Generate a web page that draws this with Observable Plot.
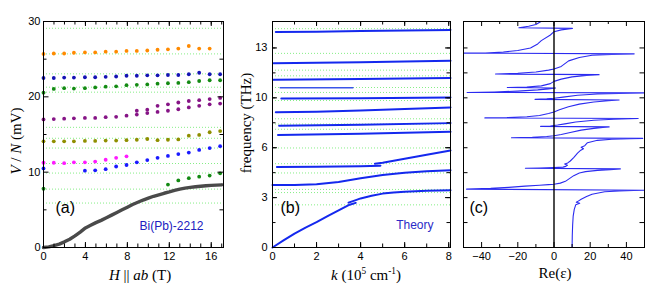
<!DOCTYPE html>
<html><head><meta charset="utf-8">
<script src="https://cdn.jsdelivr.net/npm/d3@7"></script>
<script src="https://cdn.jsdelivr.net/npm/@observablehq/plot@0.6"></script>
<style>
body{margin:0;background:#fff;}
#fig{position:relative;width:664px;height:302px;overflow:hidden;background:#fff;}
#fig svg{position:absolute;top:0;}
</style></head><body><div id="fig"></div>
<script>
// ---------- Panel (a) data ----------
const fieldH = [0,0.98,1.97,2.9,3.95,4.93,5.93,6.93,7.92,8.9,9.9,10.88,11.87,12.86,13.86,14.85,15.85,16.85];
const orangeV = [25.7,25.75,25.75,25.85,25.9,25.9,26.0,26.0,26.1,26.1,26.15,26.25,26.3,26.4,26.75,26.4,26.4];
const blueUpperV = [22.5,22.5,22.55,22.55,22.6,22.6,22.65,22.7,22.8,22.8,22.85,22.85,22.9,22.9,23.0,23.2,23.0,23.0];
const greenUpperV = [20.55,21.05,21.15,21.1,21.15,21.25,21.35,21.4,21.55,21.6,21.65,21.75,21.8,21.85,21.95,22.1,22.2,22.2];
const purpleUpperV = [17.0,17.05,17.1,17.15,17.2,17.2,17.3,17.35,17.5,18.15,18.3,18.8,19.0,19.25,19.45,19.55,19.7,19.85];
const purpleLowerIdx = [9,10,11,12,13,14,15,16,17];
const purpleLowerV = [17.65,17.85,18.0,18.15,18.35,18.6,18.8,19.0,19.1];
const oliveV = [14.1,14.1,14.1,14.1,14.15,14.15,14.2,14.2,14.25,14.3,14.4,14.25,14.3,14.35,14.85,14.95,15.3,15.45];
const magentaV = [11.25,11.25,11.2,11.3,11.3,11.4,11.65,11.9,12.1];
const blueLowerIdx = [0,4,5,6,7,8,9,10,11,12,13,14,15,16,17];
const blueLowerV = [10.5,10.2,10.25,10.4,10.75,10.95,11.3,11.6,11.9,12.15,12.4,12.6,12.95,13.2,13.45];
const greenLowerIdx = [0,12,13,14,15,16,17];
const greenLowerV = [7.8,8.35,8.9,9.2,9.4,9.55,9.85];
const grayH = [0,0.5,1,1.5,2,2.5,3,3.5,4,4.5,5,5.5,6,6.5,7,7.5,8,8.5,9,9.5,10,10.5,11,11.5,12,12.5,13,13.5,14,14.5,15,15.5,16,16.5,17];
const grayV = [0,0.08,0.25,0.45,0.75,1.1,1.55,2.05,2.6,2.95,3.3,3.6,3.95,4.3,4.65,5.0,5.35,5.7,6.0,6.3,6.55,6.8,7.0,7.2,7.38,7.58,7.75,7.88,7.98,8.07,8.13,8.19,8.24,8.28,8.32];
const guideMV = [29.1,25.7,23.05,21.28,20.62,15.95,14.5,13.2,11.15,9.88,7.75,5.9];
const aXTickLabels = [0,4,8,12,16];
const aYTickLabels = [0,10,20,30];

// ---------- Panel (b) data ----------
const guideTHz = [14.62,12.97,11.85,11.47,10.69,10.36,9.82,8.6,8.25,7.9,6.65,5.6,4.98,3.88,3.67,2.85];
const branch1 = [[0.15,14.40],[2,14.42],[4,14.46],[6,14.5],[8.08,14.54]];
const branch2 = [[0.05,12.31],[2,12.34],[4,12.38],[6,12.43],[8.08,12.48]];
const branch3 = [[0.05,11.2],[4,11.25],[8.08,11.33]];
const branch4short = [[0.35,10.67],[3.65,10.67]];
const branch5 = [[0.4,9.96],[4,9.98],[8.08,10.03]];
const branch6 = [[0.15,9.03],[2,9.07],[4,9.15],[6,9.25],[8.08,9.36]];
const branch7 = [[0.3,8.13],[4,8.2],[8.08,8.31]];
const branch8 = [[0.25,7.51],[4,7.6],[8.08,7.73]];
const branch9a = [[0.2,5.38],[2,5.39],[4,5.43],[4.9,5.47]];
const branch9b = [[4.65,5.6],[5,5.66],[6,5.93],[7,6.2],[8.08,6.48]];
const branch10 = [[0,4.18],[1,4.18],[2,4.22],[3,4.38],[4,4.62],[5,4.85],[6,5.0],[7,5.1],[8.08,5.16]];
const branch11a = [[0,0],[0.5,0.47],[1,0.93],[1.5,1.33],[2,1.69],[2.5,2.09],[3,2.48],[3.5,2.86],[3.78,2.98]];
const branch11b = [[3.45,3.0],[3.75,3.15],[4,3.28],[4.5,3.46],[5,3.6],[5.5,3.68],[6,3.73],[7,3.79],[8.08,3.83]];
const bXTickLabels = [0,2,4,6,8];
const bYTicks = [0,10/3,20/3,10,40/3];
const bYTickLabels = ["0","3","6","10","13"];

// ---------- Panel (c) data: Re(eps) vs frequency (THz), in path order ----------
const epsPath = [
 [10.0,0.0],[10.1,0.8],[10.3,1.5],[10.6,2.1],[11.2,2.55],[12.0,2.85],[14.2,2.95],[12.3,3.02],[13.4,3.1],[15,3.22],[18,3.4],[21,3.56],[28,3.72],[36,3.78],[44,3.81],[50,3.83],
 [-48.3,3.9],[-35,3.95],[-25,4.02],[-16,4.1],[-8,4.16],[-3,4.2],[0,4.23],[3.5,4.3],[6.3,4.42],[8.5,4.6],[10.9,4.8],[14,4.98],[17.4,5.07],[24,5.15],[31,5.2],[36.7,5.25],
 [-15.8,5.29],[-8,5.31],[0,5.34],[5,5.37],[6.5,5.42],[7.4,5.5],[5.9,5.58],[7.6,5.65],[9,5.78],[11,6.02],[13,6.3],[14.8,6.5],[16.3,6.6],[15,6.7],[17,6.8],[18.5,7.0],[24,7.16],[32,7.23],[42,7.27],[49,7.29],
 [-23.5,7.33],[-12,7.37],[-4,7.42],[0,7.47],[4,7.55],[9,7.68],[15,7.84],[22,7.96],[27,8.02],[30.5,8.06],
 [-7.4,8.09],[-2,8.12],[2,8.18],[6,8.26],[12,8.38],[22,8.5],[33,8.57],[42,8.6],[46.5,8.62],
 [-38.2,8.66],[-26,8.68],[-15,8.74],[-8,8.82],[-3,8.95],[0,9.05],[3,9.2],[8,9.4],[14,9.58],[22,9.72],[30,9.81],[36,9.86],
 [-10.5,9.9],[-4,9.93],[0,9.97],[5,10.05],[13,10.17],[24,10.26],[36,10.3],[50,10.33],
 [-48,10.36],[-33,10.39],[-20,10.45],[-9,10.53],[-3,10.6],[0.9,10.66],
 [-25.8,10.69],[-15,10.72],[-7,10.8],[-2,10.95],[0,11.1],[4,11.25],[10,11.4],[18,11.5],[24.9,11.55],
 [-32.3,11.59],[-20,11.64],[-10,11.73],[-3,11.85],[0,11.93],[4,12.1],[8.1,12.47],[14,12.7],[21,12.84],[32,12.9],[44.3,12.94],
 [-50,12.99],[-38,13.0],[-28,13.06],[-20,13.16],[-13,13.33],[-9,13.6],[-7,13.82],[-2,14.2],[0,14.42],[4,14.54],[9,14.62],[10.2,14.64],
 [-19.4,14.68],[-14,14.78],[-10,14.9],[-7.2,15.1]
];
const cXTickLabels = [-40,-20,0,20,40];

// ---------- helpers ----------
const fig = document.getElementById("fig");
const baseStyle = {background:"transparent", fontFamily:"'Liberation Sans', Arial, sans-serif", fontSize:"11px", color:"#000", overflow:"visible"};
const GUIDE = "#86ee86";

function boxTicks(fw, fh, xMajor, xMinor, yMajor, yMinor, lx = [5,3], ly = [5,3]) {
  const m = [];
  const xr = (v, len) => m.push(
    Plot.ruleX(v, {x: d => d, insetTop: fh - len, stroke: "#000"}),
    Plot.ruleX(v, {x: d => d, insetBottom: fh - len, stroke: "#000"}));
  const yr = (v, len) => m.push(
    Plot.ruleY(v, {y: d => d, insetRight: fw - len, stroke: "#000"}),
    Plot.ruleY(v, {y: d => d, insetLeft: fw - len, stroke: "#000"}));
  xr(xMajor, lx[0]); xr(xMinor, lx[1]); yr(yMajor, ly[0]); yr(yMinor, ly[1]);
  return m;
}
function place(svg, left) { svg.style.left = left + "px"; fig.appendChild(svg); }
function label(svg, {x, y, rotate = 0, size = 15, parts}) {
  const t = d3.select(svg).append("text")
    .attr("transform", `translate(${x},${y}) rotate(${rotate})`)
    .attr("text-anchor", "middle").attr("font-family", "'Liberation Serif', 'Times New Roman', serif")
    .attr("font-size", size).attr("fill", "#000");
  let shift = 0;
  parts.forEach(p => {
    const s = t.append("tspan").text(p.t);
    if (p.i) s.attr("font-style", "italic");
    const target = p.sup ? -6 : 0;
    if (target !== shift) { s.attr("dy", target - shift); shift = target; }
    if (p.sup) s.attr("font-size", size * 0.62);
  });
}

// ---------- Panel (a) ----------
const dotRows = [];
const addSeries = (idx, vals, color) => vals.forEach((v, i) => dotRows.push({H: fieldH[idx ? idx[i] : i], V: v, color}));
addSeries(null, orangeV, "#ff8a00");
addSeries(null, blueUpperV, "#1414b4");
addSeries(null, greenUpperV, "#138a13");
addSeries(null, purpleUpperV, "#861486");
addSeries(purpleLowerIdx, purpleLowerV, "#861486");
addSeries(null, oliveV, "#8f8f00");
addSeries(null, magentaV, "#ff1aff");
addSeries(blueLowerIdx, blueLowerV, "#1a1aff");
addSeries(greenLowerIdx, greenLowerV, "#138a13");
const grayRows = grayH.map((h, i) => ({H: h, V: grayV[i]}));

const fwA = 180, fhA = 226;
const plotA = Plot.plot({
  width: 232, height: 302, marginLeft: 43, marginRight: 9, marginTop: 21, marginBottom: 55,
  style: baseStyle,
  x: {domain: [0, 17.17], label: null},
  y: {domain: [0, 30], label: null},
  color: {type: "identity"},
  marks: [
    Plot.ruleY(guideMV, {y: d => d, stroke: GUIDE, strokeDasharray: "1,2", strokeWidth: 1}),
    Plot.line(grayRows, {x: "H", y: "V", stroke: "#4a4a4a", strokeWidth: 3.4}),
    Plot.dot(dotRows, {x: "H", y: "V", fill: "color", r: 1.9}),
    Plot.frame({stroke: "#000"}),
    ...boxTicks(fwA, fhA, aXTickLabels, d3.range(0, 18), aYTickLabels, [5, 15, 25], [5, 3.5], [5.5, 3.5]),
    Plot.axisX({ticks: aXTickLabels, tickSize: 0, tickPadding: 5, label: null}),
    Plot.axisY({ticks: aYTickLabels, tickSize: 0, tickPadding: 3, label: null}),
    Plot.text(["(a)"], {text: d => d, frameAnchor: "bottom-left", dx: 12, dy: -35, fontSize: 16, textAnchor: "start"}),
    Plot.text(["Bi(Pb)-2212"], {text: d => d, frameAnchor: "bottom-right", dx: -20, dy: -18, fontSize: 12, fill: "#2020c0", textAnchor: "end"})
  ]
});
place(plotA, 0);
label(plotA, {x: 140, y: 280, parts: [{t: "H", i: 1}, {t: " || "}, {t: "ab", i: 1}, {t: " (T)"}]});
label(plotA, {x: 21, y: 141, rotate: -90, parts: [{t: "V", i: 1}, {t: " / "}, {t: "N", i: 1}, {t: " (mV)"}]});

// ---------- Panel (b) ----------
const bRows = [];
[[branch1,"1"],[branch2,"2"],[branch3,"3"],[branch5,"5"],[branch6,"6"],[branch7,"7"],[branch8,"8"],
 [branch9a,"9a"],[branch9b,"9b"],[branch10,"10"],[branch11a,"11a"],[branch11b,"11b"]]
  .forEach(([arr, id]) => arr.forEach(([k, f]) => bRows.push({k, f, id})));
const fwB = 178, fhB = 226;
const plotB = Plot.plot({
  width: 220, height: 302, marginLeft: 40, marginRight: 2, marginTop: 21, marginBottom: 55,
  style: baseStyle,
  x: {domain: [0, 8.08], label: null},
  y: {domain: [0, 15.1], label: null},
  marks: [
    Plot.ruleY(guideTHz, {y: d => d, stroke: GUIDE, strokeDasharray: "1,2", strokeWidth: 1}),
    Plot.line(bRows, {x: "k", y: "f", z: "id", stroke: "#1428ee", strokeWidth: 2}),
    Plot.line(branch4short, {x: d => d[0], y: d => d[1], stroke: "#3a55e8", strokeWidth: 1.6}),
    Plot.frame({stroke: "#000"}),
    ...boxTicks(fwB, fhB, bXTickLabels, d3.range(0, 9), bYTicks, d3.range(9).map(i => i * 5 / 3), [5, 3.5], [5, 3.5]),
    Plot.axisX({ticks: bXTickLabels, tickSize: 0, tickPadding: 5, label: null}),
    Plot.axisY({ticks: bYTicks, tickSize: 0, tickPadding: 5, label: null, tickFormat: d => bYTickLabels[bYTicks.indexOf(d)]}),
    Plot.text(["(b)"], {text: d => d, frameAnchor: "bottom-left", dx: 8, dy: -35, fontSize: 16, textAnchor: "start"}),
    Plot.text(["Theory"], {text: d => d, frameAnchor: "bottom-right", dx: -17, dy: -19, fontSize: 12, fill: "#2a2ac8", textAnchor: "end"})
  ]
});
place(plotB, 232);
label(plotB, {x: 134, y: 280, parts: [{t: "k", i: 1}, {t: " (10"}, {t: "5", sup: 1}, {t: " cm"}, {t: "-1", sup: 1}, {t: ")"}]});
label(plotB, {x: 19, y: 123, rotate: -90, parts: [{t: "frequency (THz)"}]});

// ---------- Panel (c) ----------
const fwC = 181, fhC = 226;
const plotC = Plot.plot({
  width: 212, height: 302, marginLeft: 11, marginRight: 20, marginTop: 21, marginBottom: 55,
  style: baseStyle,
  x: {domain: [-50, 50], label: null},
  y: {domain: [0, 15.1], label: null, axis: null},
  marks: [
    Plot.line(epsPath, {x: d => d[0], y: d => d[1], stroke: "#2b2bf0", strokeWidth: 1.1}),
    Plot.ruleX([0], {stroke: "#000", strokeWidth: 1.4}),
    Plot.frame({stroke: "#000"}),
    ...boxTicks(fwC, fhC, cXTickLabels, [-30, -10, 10, 30], d3.range(9).map(i => i * 5 / 3), [], [5, 3], [4.5, 3]),
    Plot.axisX({ticks: cXTickLabels, tickSize: 0, tickPadding: 5, label: null}),
    Plot.text(["(c)"], {text: d => d, frameAnchor: "bottom-left", dx: 6, dy: -35, fontSize: 16, textAnchor: "start"})
  ]
});
place(plotC, 452);
label(plotC, {x: 103, y: 278, parts: [{t: "Re(ε)"}]});
</script></body></html>
